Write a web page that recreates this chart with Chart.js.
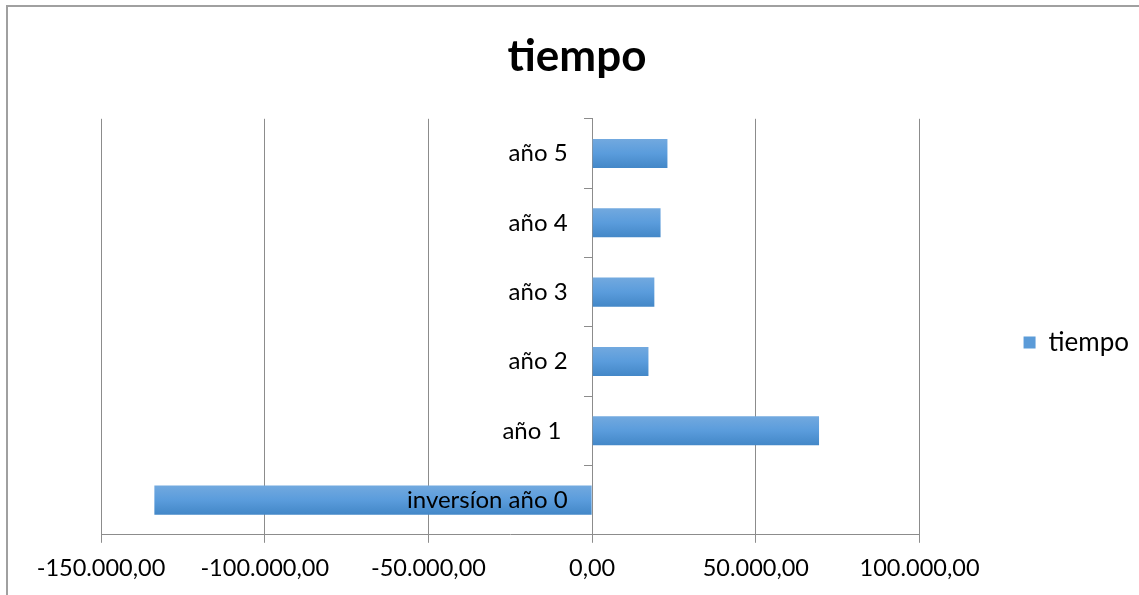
<!DOCTYPE html>
<html>
<head>
<meta charset="utf-8">
<script src="https://cdn.jsdelivr.net/npm/chart.js@4.4.1/dist/chart.umd.min.js"></script>
<style>
  html, body { margin: 0; padding: 0; background: #fff; }
  #wrap { width: 1139px; height: 595px; position: relative; }
</style>
</head>
<body>
<div id="wrap"><canvas id="chart"></canvas></div>
<script>
// data
const categories = ['inversíon año 0', 'año 1 ', 'año 2', 'año 3', 'año 4', 'año 5'];
const tiempoValues = [-133700, 69300, 17200, 19000, 20900, 23000];
const seriesName = 'tiempo';
const xMin = -150000;
const xMax = 100000;
const xStep = 50000;

const barShare = 0.42;

// -150000 -> "-150.000,00"
function formatEs(value) {
  const neg = value < 0;
  const parts = Math.abs(value).toFixed(2).split('.');
  const intPart = parts[0].replace(/\B(?=(\d{3})+(?!\d))/g, '.');
  return (neg ? '-' : '') + intPart + ',' + parts[1];
}

// excel-ish vertical shading on each bar
function barFill(context) {
  const chart = context.chart;
  const yScale = chart.scales.y;
  if (!yScale || !chart.chartArea || context.type !== 'data') return '#5b9bd8';
  const center = yScale.getPixelForValue(context.dataIndex);
  const half = yScale.height / categories.length * barShare / 2;
  const g = chart.ctx.createLinearGradient(0, center - half, 0, center + half);
  g.addColorStop(0, '#72a9df');
  g.addColorStop(0.5, '#5a9cdc');
  g.addColorStop(1, '#4387c7');
  return g;
}

// outer frame of the chart object (only left/top edges are inside the picture)
const framePlugin = {
  id: 'frame',
  beforeDraw(chart) {
    const ctx = chart.ctx;
    ctx.save();
    ctx.strokeStyle = '#a0a0a0';
    ctx.lineWidth = 2;
    ctx.beginPath();
    ctx.moveTo(7, chart.height);
    ctx.lineTo(7, 6);
    ctx.lineTo(chart.width, 6);
    ctx.stroke();
    ctx.restore();
  }
};

const gridColor = '#8c8c8c';
// labels sit left of the zero line; the dynamic axis ignores ticks.padding
const labelGap = '    ';

new Chart(document.getElementById('chart'), {
  type: 'bar',
  data: {
    labels: categories,
    datasets: [{
      label: seriesName,
      data: tiempoValues,
      backgroundColor: barFill,
      borderWidth: 0,
      categoryPercentage: 1,
      barPercentage: barShare
    }]
  },
  options: {
    indexAxis: 'y',
    responsive: true,
    maintainAspectRatio: false,
    animation: false,
    layout: {
      padding: { left: 15, right: 0, top: 0, bottom: 0 }
    },
    plugins: {
      title: {
        display: true,
        text: 'tiempo',
        color: '#000',
        font: { family: 'Lato', size: 44, weight: 'bold' },
        padding: { top: 30, bottom: 36 }
      },
      legend: {
        display: true,
        position: 'right',
        title: {
          display: true,
          text: ' ',
          font: { size: 10 },
          padding: { top: 39, bottom: 39 }
        },
        labels: {
          color: '#000',
          font: { family: 'Lato', size: 26 },
          boxWidth: 12,
          boxHeight: 12,
          padding: 104,
          generateLabels: function(chart) {
            const items = Chart.defaults.plugins.legend.labels.generateLabels(chart);
            items.forEach(item => { item.fillStyle = '#5b9bd8'; });
            return items;
          }
        }
      },
      tooltip: { enabled: false }
    },
    scales: {
      x: {
        min: xMin,
        max: xMax,
        afterFit: function(scale) {
          scale.paddingLeft = 101;
        },
        grid: {
          color: gridColor,
          lineWidth: 1,
          tickLength: 8,
          drawTicks: true
        },
        border: { color: gridColor, width: 1 },
        ticks: {
          stepSize: xStep,
          color: '#000',
          padding: 12,
          maxRotation: 0,
          font: { family: 'Lato', size: 23.5 },
          callback: function(value) {
            return formatEs(value);
          }
        }
      },
      y: {
        reverse: true,
        position: { x: 0 },
        grid: {
          offset: true,
          drawOnChartArea: false,
          color: gridColor,
          tickLength: 8
        },
        border: { color: gridColor, width: 1 },
        ticks: {
          z: 1,
          color: '#000',
          font: { family: 'Lato', size: 24 },
          callback: function(value) {
            return this.getLabelForValue(value) + labelGap;
          }
        }
      }
    }
  },
  plugins: [framePlugin]
});
</script>
</body>
</html>
